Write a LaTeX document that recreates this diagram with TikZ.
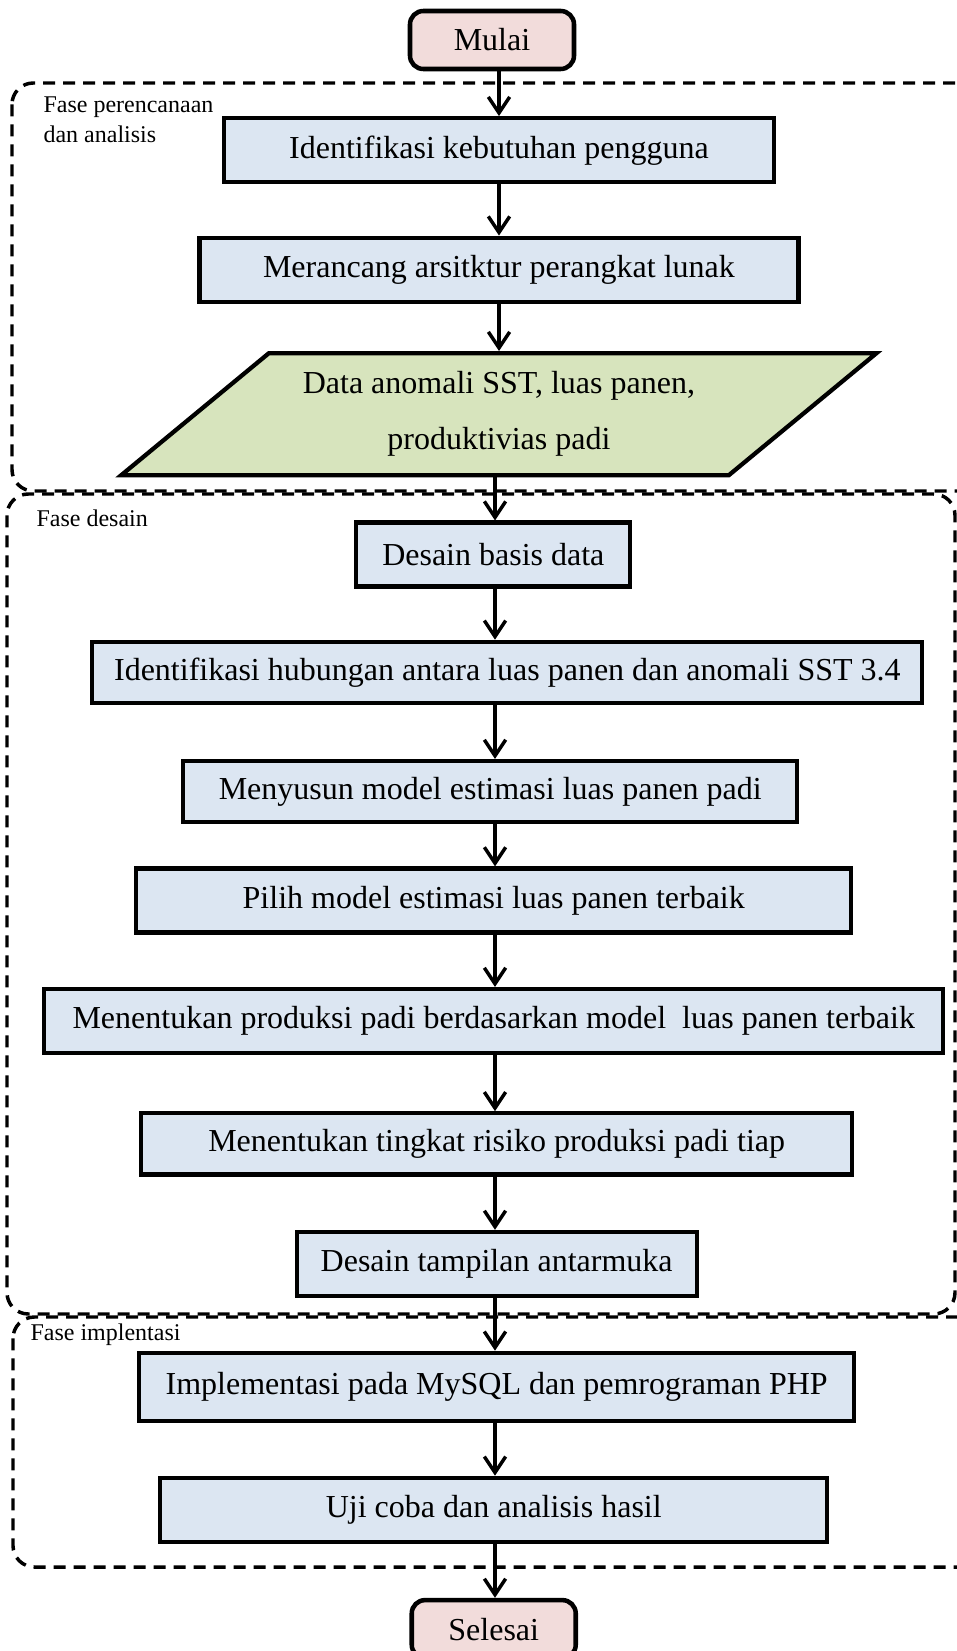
\documentclass[tikz,border=0pt]{standalone}
\usepackage{fontspec}
\setmainfont{Liberation Serif}
\usepackage{tikz}
\usetikzlibrary{arrows.meta, positioning, shapes.geometric}
\usepackage{xcolor}
\definecolor{boxblue}{RGB}{220,230,242}
\definecolor{termpink}{RGB}{242,220,219}
\definecolor{datagreen}{RGB}{215,228,189}

\begin{document}
\begin{tikzpicture}[
  x=0.375pt, y=-0.375pt,
  proc/.style={rectangle, draw=black, line width=1.6pt, fill=boxblue,
               minimum height=24pt, inner xsep=6pt, font=\fontsize{12}{14}\selectfont},
  term/.style={rectangle, draw=black, line width=1.7pt, fill=termpink, rounded corners=5pt,
               minimum width=61.5pt, minimum height=21.75pt, font=\fontsize{12}{14}\selectfont},
  io/.style={trapezium, trapezium left angle=38, trapezium right angle=142,
             trapezium stretches=true, draw=black, line width=1.6pt, fill=datagreen,
             minimum width=283.9pt, minimum height=45.75pt, align=center,
             font=\fontsize{12}{21}\selectfont},
  flow/.style={-{Straight Barb[length=6pt, width=8pt]}, line width=1.3pt},
  phase/.style={dash pattern=on 4.5pt off 3pt, line width=1.3pt, rounded corners=8pt},
  tag/.style={font=\fontsize{9}{11.25}\selectfont, inner sep=0pt, align=left}
]
  \useasboundingbox (0,0) rectangle (957,1651);
  \clip (0,0) rectangle (957,1651);

  % Phases
  \draw[phase] (12,83) rectangle (990,491);
  \draw[phase] (7,494) rectangle (955,1314);
  \draw[phase] (13,1317) rectangle (990,1567);
  \node[tag, anchor=north west] (tag1) at (43,96) {Fase perencanaan\\dan analisis};
  \node[tag, anchor=base west] (tag2) at (36,526) {Fase desain};
  \node[tag, anchor=base west] (tag3) at (30,1340) {Fase implentasi};

  % Flow
  \node[term] (mulai) at (492,40) {Mulai};
  \node[proc, minimum width=206.25pt, below=16.8pt of mulai, xshift=2.6pt] (keb)
    {Identifikasi kebutuhan pengguna};
  \node[proc, minimum width=224.6pt, below=19.2pt of keb] (arsi)
    {Merancang arsitktur perangkat lunak};
  \node[io, below=17.7pt of arsi] (data)
    {Data anomali SST, luas panen,\\produktivias padi};
  \node[proc, minimum width=102.75pt, below=16.2pt of data, xshift=-2.1pt] (basis)
    {Desain basis data};
  \node[proc, minimum width=311.25pt, minimum height=22.9pt, below=19.1pt of basis, xshift=5.25pt] (hub)
    {Identifikasi hubungan antara luas panen dan anomali SST 3.4};
  \node[proc, minimum width=230.25pt, minimum height=22.9pt, below=20.2pt of hub, xshift=-6.4pt] (susun)
    {Menyusun model estimasi luas panen padi};
  \node[proc, minimum width=268.1pt, below=15.8pt of susun, xshift=1.3pt] (pilih)
    {Pilih model estimasi luas panen terbaik};
  \node[proc, minimum width=337.1pt, below=19.6pt of pilih] (prod)
    {Menentukan produksi padi berdasarkan model\ \ luas panen terbaik};
  \node[proc, minimum width=266.6pt, minimum height=22.9pt, below=21pt of prod, xshift=1.1pt] (risiko)
    {Menentukan tingkat risiko produksi padi tiap};
  \node[proc, minimum width=150pt, below=20pt of risiko] (tampil)
    {Desain tampilan antarmuka};
  \node[proc, minimum width=268.1pt, minimum height=25.5pt, below=19.7pt of tampil] (impl)
    {Implementasi pada MySQL dan pemrograman PHP};
  \node[proc, minimum width=250.1pt, below=19.8pt of impl, xshift=-1.1pt] (uji)
    {Uji coba dan analisis hasil};
  \node[term, below=20.2pt of uji] (selesai) {Selesai};

  % Arrows
  \coordinate (upper) at (499,0);
  \coordinate (lower) at (495,0);
  \draw[flow] (mulai.south -| upper) -- (keb.north -| upper);
  \draw[flow] (keb.south -| upper) -- (arsi.north -| upper);
  \draw[flow] (arsi.south -| upper) -- (data.north -| upper);
  \draw[flow] (data.south -| lower) -- (basis.north -| lower);
  \draw[flow] (basis.south -| lower) -- (hub.north -| lower);
  \draw[flow] (hub.south -| lower) -- (susun.north -| lower);
  \draw[flow] (susun.south -| lower) -- (pilih.north -| lower);
  \draw[flow] (pilih.south -| lower) -- (prod.north -| lower);
  \draw[flow] (prod.south -| lower) -- (risiko.north -| lower);
  \draw[flow] (risiko.south -| lower) -- (tampil.north -| lower);
  \draw[flow] (tampil.south -| lower) -- (impl.north -| lower);
  \draw[flow] (impl.south -| lower) -- (uji.north -| lower);
  \draw[flow] (uji.south -| lower) -- (selesai.north -| lower);
\end{tikzpicture}
\end{document}
